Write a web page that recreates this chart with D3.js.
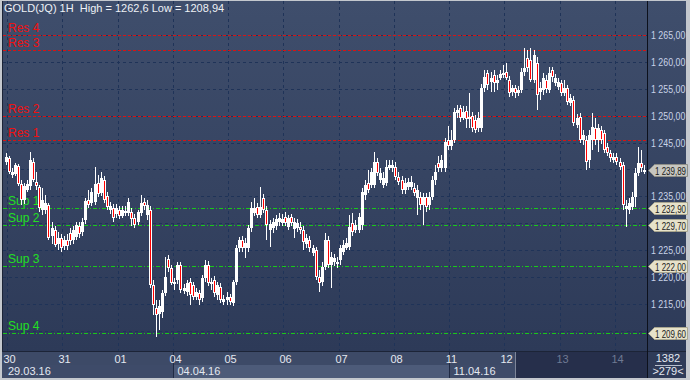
<!DOCTYPE html>
<html><head><meta charset="utf-8">
<script src="https://cdn.jsdelivr.net/npm/d3@7"></script>
<style>
html,body{margin:0;padding:0;background:#c4c8ce;}
svg{display:block;font-family:"Liberation Sans",Arial,sans-serif;}
</style>
</head><body>
<svg id="chart" width="690" height="380"></svg>
<script>
// ---------------- DATA ----------------
const openP = [
1241.4,1242.1,1239.0,1239.2,1240.6,1237.3,1234.3,1236.2,1236.9,1241.4,
1237.7,1236.7,1232.5,1232.5,1233.4,1227.6,1228.7,1226.1,1227.3,1225.8,
1226.9,1228.2,1226.9,1227.4,1229.5,1228.4,1230.6,1234.3,1233.8,1234.0,
1237.5,1235.6,1238.0,1235.1,1232.5,1232.8,1231.7,1232.5,1231.3,1232.3,
1231.9,1232.1,1231.0,1230.2,1231.9,1234.0,1231.5,1232.5,1218.5,1214.2,
1213.1,1213.5,1217.0,1223.4,1221.7,1218.7,1219.4,1222.2,1217.4,1217.2,
1219.1,1218.5,1216.3,1217.0,1216.1,1219.8,1222.2,1218.7,1219.4,1216.7,
1218.1,1215.4,1215.7,1216.3,1215.2,1219.1,1225.4,1226.9,1225.4,1225.4,
1229.1,1231.9,1233.0,1231.5,1234.7,1232.5,1228.7,1229.1,1229.5,1230.2,
1230.0,1231.2,1229.3,1231.2,1228.9,1229.1,1229.3,1228.7,1226.1,1226.9,
1224.5,1225.0,1220.0,1219.1,1221.9,1226.9,1222.2,1222.8,1222.4,1223.2,
1224.7,1225.4,1225.6,1230.0,1228.7,1228.7,1229.7,1235.2,1237.5,1237.1,
1237.1,1241.4,1238.0,1237.1,1237.5,1240.3,1240.3,1240.5,1238.6,1238.0,
1236.2,1236.7,1236.7,1236.5,1234.7,1234.9,1233.4,1234.9,1233.4,1234.9,
1238.0,1241.2,1240.3,1240.3,1245.5,1244.4,1245.5,1250.5,1251.4,1249.6,
1250.9,1249.4,1249.9,1249.2,1247.7,1247.7,1255.1,1257.9,1256.3,1257.6,
1256.1,1257.0,1257.6,1258.1,1256.6,1254.4,1255.1,1254.2,1254.8,1258.1,
1260.7,1260.4,1256.6,1259.8,1254.4,1254.8,1256.6,1254.8,1258.5,1256.1,
1255.3,1256.1,1254.2,1255.1,1252.4,1252.9,1248.3,1249.7,1245.5,1245.5,
1241.8,1245.5,1247.7,1245.5,1247.3,1246.8,1244.2,1243.1,1241.8,1242.3,
1241.4,1240.8,1232.6,1232.5,1233.0,1234.9,1239.3,1241.2,1239.5];
const highP = [
1243.1,1242.5,1240.3,1241.2,1241.0,1238.0,1237.5,1238.0,1243.2,1242.1,
1239.5,1237.1,1236.5,1235.2,1233.8,1230.2,1229.5,1228.4,1228.0,1227.6,
1228.0,1229.1,1229.5,1230.2,1230.2,1231.0,1234.7,1236.2,1236.5,1240.5,
1239.0,1239.5,1238.8,1235.8,1234.0,1233.6,1233.6,1233.2,1233.2,1233.2,
1234.7,1232.8,1231.7,1232.5,1235.2,1234.7,1234.3,1233.2,1219.4,1215.7,
1215.7,1217.6,1223.7,1224.1,1222.2,1219.8,1222.8,1222.8,1218.7,1219.4,
1219.8,1219.1,1218.0,1217.6,1220.4,1223.2,1223.0,1219.8,1220.2,1219.1,
1218.9,1216.7,1217.2,1216.8,1219.4,1226.0,1227.4,1227.6,1227.3,1229.7,
1234.0,1234.7,1233.8,1236.7,1235.4,1233.2,1230.6,1231.0,1231.5,1231.9,
1231.7,1232.1,1231.5,1231.7,1231.0,1230.8,1230.2,1229.5,1228.0,1227.6,
1226.0,1225.6,1221.3,1222.8,1228.2,1227.6,1224.7,1224.3,1223.7,1226.0,
1226.9,1227.3,1231.5,1231.9,1230.6,1231.9,1236.5,1238.0,1239.9,1240.3,
1243.2,1242.1,1240.3,1239.5,1241.8,1241.8,1241.8,1241.4,1239.5,1238.8,
1238.4,1238.4,1238.8,1237.5,1237.1,1235.8,1235.6,1235.6,1235.8,1238.8,
1240.8,1242.5,1242.7,1245.8,1248.1,1247.3,1251.4,1252.0,1252.0,1251.8,
1251.8,1254.2,1250.7,1250.1,1250.7,1255.9,1258.5,1258.5,1258.1,1258.5,
1257.6,1258.5,1259.4,1259.8,1257.4,1255.7,1255.7,1255.5,1258.9,1262.6,
1262.2,1262.6,1262.2,1260.9,1256.3,1257.9,1257.6,1259.0,1259.0,1257.7,
1257.0,1256.6,1256.6,1255.7,1254.0,1253.7,1250.3,1250.5,1247.3,1246.2,
1247.3,1250.5,1249.6,1248.4,1248.1,1247.3,1244.9,1243.6,1243.1,1243.1,
1242.1,1241.4,1234.3,1234.7,1235.8,1240.3,1244.2,1243.6,1240.8];
const lowP = [
1240.8,1239.2,1238.4,1238.8,1236.9,1233.4,1233.6,1235.8,1236.2,1237.7,
1236.2,1232.1,1231.5,1231.7,1226.9,1226.1,1225.6,1225.0,1224.7,1225.0,
1225.0,1226.0,1226.1,1226.9,1227.3,1227.6,1229.9,1232.8,1233.2,1233.4,
1234.9,1235.1,1233.8,1232.5,1231.7,1230.2,1231.0,1230.8,1231.0,1231.3,
1231.3,1229.5,1229.1,1229.7,1231.3,1232.5,1230.6,1218.0,1213.0,1208.94,
1210.2,1212.4,1216.5,1220.9,1218.5,1217.6,1218.7,1217.0,1216.8,1216.5,
1214.8,1215.7,1215.7,1214.8,1215.4,1219.1,1218.3,1217.6,1216.3,1215.7,
1215.2,1214.8,1214.8,1214.8,1214.6,1218.5,1224.7,1224.7,1223.5,1224.7,
1228.4,1231.3,1231.0,1231.0,1231.9,1226.9,1225.6,1228.2,1228.7,1229.5,
1229.5,1229.5,1228.7,1229.5,1227.3,1228.4,1228.0,1225.0,1225.4,1224.7,
1223.9,1219.4,1217.2,1218.3,1221.3,1221.7,1218.0,1222.1,1221.7,1222.2,
1224.1,1225.0,1225.0,1227.6,1228.2,1228.2,1228.7,1234.3,1235.6,1236.5,
1236.5,1238.8,1237.5,1236.5,1236.9,1239.9,1239.5,1238.0,1237.1,1235.4,
1235.4,1236.2,1236.2,1235.1,1231.5,1232.5,1229.7,1232.1,1232.5,1234.3,
1237.1,1239.5,1239.5,1239.5,1243.6,1243.6,1244.9,1249.6,1248.8,1249.2,
1247.7,1247.7,1247.0,1246.8,1247.0,1247.0,1254.4,1254.8,1254.4,1254.4,
1254.8,1256.6,1257.0,1256.6,1253.5,1253.7,1253.3,1253.7,1254.2,1257.4,
1258.1,1256.3,1256.1,1251.1,1252.9,1253.8,1254.2,1254.2,1256.3,1255.5,
1254.8,1253.7,1253.7,1252.0,1251.8,1248.1,1247.7,1244.9,1244.5,1239.9,
1240.3,1243.6,1244.5,1243.2,1244.7,1243.1,1242.5,1241.4,1241.2,1240.8,
1239.9,1232.5,1229.3,1231.7,1232.5,1233.0,1238.8,1239.5,1239.2];
const closeP = [
1242.3,1239.5,1239.5,1240.8,1237.3,1234.3,1236.9,1237.3,1241.8,1238.0,
1236.9,1232.8,1234.3,1233.8,1227.3,1229.1,1226.0,1227.3,1225.4,1226.9,
1225.8,1226.7,1228.7,1229.7,1228.0,1230.2,1234.1,1233.4,1235.8,1237.3,
1235.4,1238.4,1234.3,1233.0,1233.2,1231.0,1232.8,1231.3,1232.5,1231.9,
1234.0,1230.8,1229.7,1232.1,1233.8,1233.2,1233.4,1218.5,1214.8,1213.0,
1214.6,1217.0,1220.0,1221.7,1218.9,1219.1,1222.2,1217.6,1218.0,1218.9,
1216.7,1216.3,1217.2,1215.7,1219.8,1222.2,1218.9,1219.1,1217.0,1218.5,
1215.7,1215.9,1216.3,1215.4,1219.1,1225.4,1226.9,1225.4,1226.3,1229.1,
1232.8,1232.8,1231.5,1233.0,1232.5,1229.7,1229.9,1230.2,1230.8,1231.0,
1230.8,1230.0,1231.0,1230.0,1230.2,1230.0,1228.7,1226.5,1227.3,1225.4,
1225.4,1220.0,1218.9,1221.9,1226.9,1222.2,1223.7,1223.5,1222.8,1225.4,
1226.0,1226.3,1229.3,1228.4,1229.7,1231.2,1235.8,1237.1,1236.2,1239.5,
1241.4,1239.3,1239.3,1238.4,1240.5,1240.8,1240.8,1238.6,1237.7,1236.2,
1237.5,1237.7,1237.7,1235.6,1236.2,1233.4,1234.9,1233.0,1234.9,1238.0,
1239.5,1240.3,1241.8,1245.1,1244.4,1245.5,1250.7,1251.1,1249.6,1250.7,
1249.4,1249.7,1247.7,1247.3,1249.6,1255.1,1257.2,1255.7,1257.0,1256.1,
1256.6,1257.7,1257.9,1257.0,1254.2,1255.1,1254.2,1254.8,1258.1,1258.9,
1258.9,1256.6,1261.3,1253.8,1255.1,1257.0,1255.0,1257.9,1257.2,1257.0,
1256.3,1254.2,1255.1,1252.5,1253.3,1248.6,1249.6,1245.5,1246.4,1241.4,
1246.4,1247.9,1245.5,1247.7,1245.5,1243.6,1243.1,1242.1,1242.3,1241.4,
1240.5,1233.4,1233.2,1233.8,1234.9,1239.3,1241.2,1240.3,1239.89];

const dayLabels = ["30","31","01","04","05","06","07","08","11","12","13","14"];
const dayStartIndex = [1,19,37,55,73,91,109,127,145,163,181,199];
const weekLabels = ["29.03.16","04.04.16","11.04.16"];
const weekStartDay = [null,"04","11"];
const priceTicks = [1265,1260,1255,1250,1245,1240,1235,1230,1225,1220,1215,1210];
const resLabels = ["Res 4","Res 3","Res 2","Res 1"];
const resValues = [1265.0,1262.2,1250.0,1245.5];
const supLabels = ["Sup 1","Sup 2","Sup 3","Sup 4"];
const supValues = [1232.9,1229.7,1222.0,1209.6];
const lastPrice = 1239.89;
const titleText = "GOLD(JQ) 1H\u00a0 High = 1262,6 Low = 1208,94";
const barsTotal = "1382";
const barsVisible = ">279<";

// ---------------- LAYOUT ----------------
const W = 690, H = 380;
const plotL = 2, plotR = 647, plotT = 1, plotB = 351;
const svg = d3.select("#chart");
const n = closeP.length;
const x = d3.scaleLinear().domain([0, n - 1]).range([5.5, 5.5 + 3.07 * (n - 1)]);
const y = d3.scaleLinear().domain([1265, 1209.6]).range([35, 333]);

const fmt = v => {
  const s = d3.format(",.2f")(v);
  return s.replace(/,/g, " ").replace(".", ",");
};

const defs = svg.append("defs");
const g1 = defs.append("linearGradient").attr("id","bg").attr("x1",0).attr("y1",0).attr("x2",0).attr("y2",1);
g1.append("stop").attr("offset","0%").attr("stop-color","#3f4e6c");
g1.append("stop").attr("offset","100%").attr("stop-color","#2d3a58");

// outer frame
svg.append("rect").attr("x",0).attr("y",0).attr("width",W).attr("height",H).attr("fill","#c4c8ce");
// plot + price axis background
svg.append("rect").attr("x",plotL).attr("y",plotT).attr("width",686 - plotL).attr("height",plotB - plotT).attr("fill","url(#bg)");
// left dark edge
svg.append("rect").attr("x",plotL).attr("y",plotT).attr("width",1).attr("height",377).attr("fill","#1c2437");

// bottom axis area
svg.append("rect").attr("x",plotL).attr("y",plotB).attr("width",686 - plotL).attr("height",27).attr("fill","#3d4a67");
svg.append("rect").attr("x",plotL).attr("y",plotB).attr("width",686 - plotL).attr("height",1).attr("fill","#1c2437");

// week panels in second row
const tickX = i => Math.round(x(i) - 1.5) + 0.5;
const dayTickX = dayLabels.map((d, k) => tickX(dayStartIndex[k]));
const wk1 = dayTickX[dayLabels.indexOf("04")];
const wk2 = dayTickX[dayLabels.indexOf("11")];
svg.append("rect").attr("x",plotL + 1).attr("y",365).attr("width",wk1 - plotL - 1).attr("height",13).attr("fill","#3e4b69");
svg.append("rect").attr("x",wk1).attr("y",365).attr("width",wk2 - wk1).attr("height",13).attr("fill","#4d5b79");
svg.append("rect").attr("x",wk2).attr("y",365).attr("width",515 - wk2).attr("height",13).attr("fill","#3e4b69");
[wk1, wk2].forEach(xx => svg.append("line").attr("x1",xx).attr("x2",xx).attr("y1",352).attr("y2",378).attr("stroke","#1f2a44"));
// dark region (right part of time axis)
svg.append("rect").attr("x",515).attr("y",352).attr("width",plotR - 515).attr("height",26).attr("fill","#262f4b");
svg.append("line").attr("x1",515.5).attr("x2",515.5).attr("y1",352).attr("y2",378).attr("stroke","#7d8599");

// right axis vertical separator
svg.append("rect").attr("x",plotR).attr("y",plotT).attr("width",1).attr("height",377).attr("fill","#0d111c");
// bottom-right box
svg.append("rect").attr("x",plotR + 1).attr("y",352).attr("width",686 - plotR - 1).attr("height",26).attr("fill","#2f3b58");

// ---------------- GRID ----------------
const grid = svg.append("g");
priceTicks.forEach(v => {
  grid.append("line").attr("x1",plotL + 1).attr("x2",plotR).attr("y1",Math.round(y(v)) + 0.5).attr("y2",Math.round(y(v)) + 0.5)
    .attr("stroke","#1f3358").attr("stroke-dasharray","3,3");
});
dayTickX.forEach(xx => {
  grid.append("line").attr("x1",xx).attr("x2",xx).attr("y1",plotT).attr("y2",plotB)
    .attr("stroke","#1f3358").attr("stroke-dasharray","3,3");
});

// ---------------- LEVEL LINES ----------------
const lv = svg.append("g");
resValues.forEach((v, k) => {
  const yy = Math.round(y(v)) + 0.5;
  lv.append("line").attr("x1",plotL + 1).attr("x2",plotR).attr("y1",yy).attr("y2",yy)
    .attr("stroke","#d81414").attr("stroke-dasharray","3,2");
  lv.append("text").attr("x",8).attr("y",yy - 4).attr("fill","#f01010").attr("font-size",12).text(resLabels[k]);
});
supValues.forEach((v, k) => {
  const yy = Math.round(y(v)) + 0.5;
  lv.append("line").attr("x1",plotL + 1).attr("x2",plotR).attr("y1",yy).attr("y2",yy)
    .attr("stroke","#19c819").attr("stroke-dasharray","4,2,1,2");
  lv.append("text").attr("x",8).attr("y",yy - 4).attr("fill","#22e022").attr("font-size",12).text(supLabels[k]);
});

// ---------------- CANDLES ----------------
const cg = svg.append("g");
for (let i = 0; i < n; i++) {
  const cx = Math.round(x(i));
  const o = openP[i], c = closeP[i], h = highP[i], l = lowP[i];
  const yh = Math.round(y(h)), yl = Math.round(y(l));
  const yt = Math.round(y(Math.max(o, c))), yb = Math.round(y(Math.min(o, c)));
  cg.append("rect").attr("x",cx).attr("y",yh).attr("width",1).attr("height",Math.max(1, yl - yh)).attr("fill","#ffffff");
  const bh = Math.max(2, yb - yt);
  cg.append("rect").attr("x",cx - 1).attr("y",yt).attr("width",3).attr("height",bh).attr("fill","#ffffff");
  if (c < o && bh > 2) {
    cg.append("rect").attr("x",cx).attr("y",yt + 1).attr("width",1).attr("height",bh - 2).attr("fill","#ff0000");
  }
}

// ---------------- TITLE ----------------
svg.append("text").attr("x",4).attr("y",12).attr("fill","#eef1f6").attr("font-size",11).text(titleText);

// ---------------- PRICE AXIS ----------------
const tagVals = supValues.concat([lastPrice]);
const ax = svg.append("g");
priceTicks.forEach(v => {
  if (tagVals.some(t => Math.abs(y(t) - y(v)) < 9)) return;
  ax.append("text").attr("transform",`translate(651,${y(v) + 4}) scale(0.84,1)`)
    .attr("fill","#c9d3e8").attr("font-size",10.5).text(fmt(v));
});
tagVals.forEach(v => {
  const yy = Math.round(y(v)) + 0.5;
  const isLast = v === lastPrice;
  ax.append("path")
    .attr("d",`M648.5,${yy} L654.5,${yy - 6} L687.5,${yy - 6} L687.5,${yy + 6} L654.5,${yy + 6} Z`)
    .attr("fill", isLast ? "#c6c6c0" : "#e6e2ca").attr("stroke", isLast ? "#8e8e88" : "#a9a690");
  ax.append("text").attr("transform",`translate(655,${yy + 4}) scale(0.76,1)`)
    .attr("fill","#1a1a1a").attr("font-size",10.5).text(fmt(v));
});

// ---------------- TIME AXIS ----------------
dayLabels.forEach((d, k) => {
  const xx = dayTickX[k] + 2;
  const dim = xx > 515;
  svg.append("text").attr("x",xx).attr("y",363).attr("text-anchor","middle")
    .attr("fill", dim ? "#6f7a93" : "#e4e8f0").attr("font-size",11).text(d);
});
weekLabels.forEach((w, k) => {
  const xx = weekStartDay[k] === null ? 8 : dayTickX[dayLabels.indexOf(weekStartDay[k])] + 4;
  svg.append("text").attr("x",xx).attr("y",375).attr("fill","#e4e8f0").attr("font-size",11).text(w);
});
svg.append("text").attr("x",668).attr("y",362).attr("text-anchor","middle").attr("fill","#e4e8f0").attr("font-size",11).text(barsTotal);
svg.append("line").attr("x1",655).attr("x2",682).attr("y1",365.5).attr("y2",365.5).attr("stroke","#b8bfcc");
svg.append("text").attr("x",668).attr("y",375).attr("text-anchor","middle").attr("fill","#e4e8f0").attr("font-size",11).text(barsVisible);
</script>
</body></html>
